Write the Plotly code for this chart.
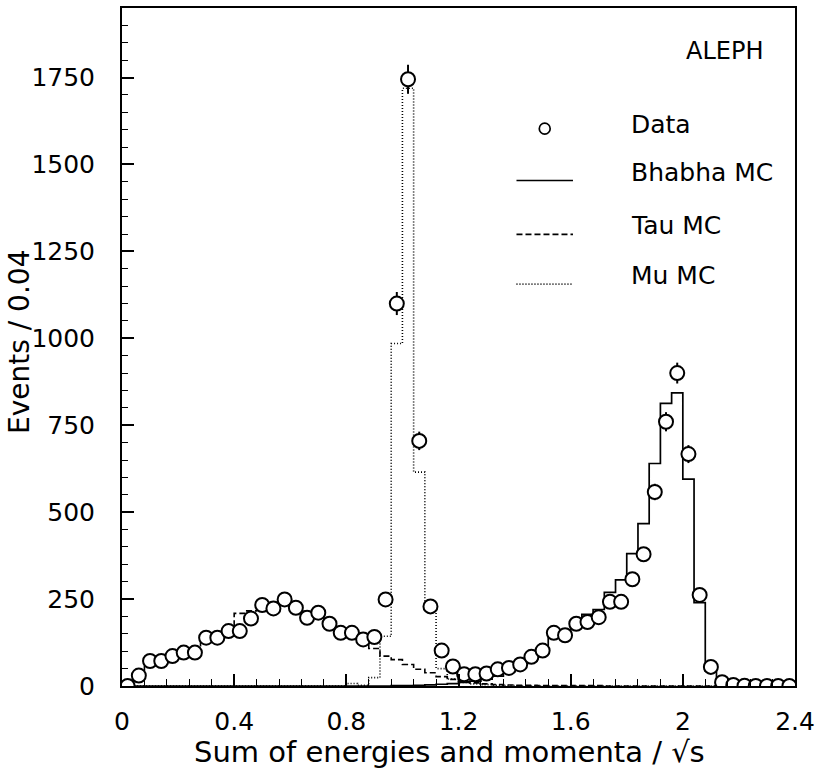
import numpy as np
import plotly.graph_objects as go

# ---------------- data (60 bins of width 0.04 from 0 to 2.4) ----------------
bin_width = 0.04
n_bins = 60

data_counts = [0, 30, 72, 72, 86, 96, 96, 139, 139, 158,
               158, 194, 233, 223, 249, 225, 196, 211, 179, 153,
               153, 134, 141, 249, 1100, 1745, 705, 229, 102, 56,
               34, 34, 36, 48, 52, 62, 84, 102, 153, 146,
               179, 184, 198, 242, 242, 307, 379, 558, 760, 900,
               667, 262, 55, 11, 3, 1, 0, 0, 0, 0]

bhabha_mc = [0, 0, 0, 0, 0, 0, 0, 0, 0, 0,
             0, 0, 0, 0, 0, 0, 0, 0, 0, 0,
             0, 0, 0, 0, 1, 1, 2, 3, 5, 7,
             10, 14, 20, 28, 40, 52, 72, 100, 163, 150,
             190, 206, 220, 269, 305, 381, 467, 640, 813, 843,
             595, 240, 43, 8, 2, 1, 0, 0, 0, 0]

tau_mc = [3, 43, 68, 72, 84, 97, 103, 130, 138, 160,
          209, 216, 228, 230, 238, 232, 215, 200, 178, 166,
          150, 140, 108, 86, 76, 62, 48, 38, 27, 19,
          13, 9, 6, 4, 3, 2, 2, 1, 1, 1,
          1, 1, 1, 0, 0, 0, 0, 0, 0, 0,
          0, 0, 0, 0, 0, 0, 0, 0, 0, 0]

mu_mc = [0, 0, 0, 0, 0, 0, 0, 0, 0, 0,
         0, 0, 0, 0, 0, 0, 0, 0, 0, 0,
         7, 2, 24, 143, 985, 1719, 615, 240, 50, 20,
         10, 6, 4, 2, 1, 0, 0, 0, 0, 0,
         0, 0, 0, 0, 0, 0, 0, 0, 0, 0,
         0, 0, 0, 0, 0, 0, 0, 0, 0, 0]

x_tick_vals = [0, 0.4, 0.8, 1.2, 1.6, 2.0, 2.4]
x_tick_text = ["0", "0.4", "0.8", "1.2", "1.6", "2", "2.4"]
y_tick_vals = [0, 250, 500, 750, 1000, 1250, 1500, 1750]
y_tick_text = ["0", "250", "500", "750", "1000", "1250", "1500", "1750"]

legend_labels = ["Data", "Bhabha MC", "Tau MC", "Mu MC"]

# ---------------- derived structure ----------------
edges = np.round(np.arange(n_bins + 1) * bin_width, 4)
centers = edges[:-1] + bin_width / 2
assert all(len(a) == n_bins for a in (data_counts, bhabha_mc, tau_mc, mu_mc))

FONT = "DejaVu Sans"
FS = 25


def step(vals):
    return list(edges), list(vals) + [vals[-1]]


fig = go.Figure()

for vals, dash, width in [(bhabha_mc, "solid", 1.7),
                          (tau_mc, "6px,3px", 1.6),
                          (mu_mc, "1px,2px", 1.6)]:
    xs, ys = step(vals)
    fig.add_trace(go.Scatter(x=xs, y=ys, mode="lines", line_shape="hv",
                             line=dict(color="black", width=width, dash=dash),
                             showlegend=False, hoverinfo="skip"))

fig.add_trace(go.Scatter(
    x=centers, y=data_counts, mode="markers",
    marker=dict(symbol="circle", size=14, color="white",
                line=dict(color="black", width=2)),
    error_y=dict(type="data", array=np.sqrt(np.array(data_counts, dtype=float)),
                 visible=True, width=0, thickness=2, color="black"),
    showlegend=False))

# ---------------- layout geometry ----------------
W, H = 821, 772
L, R, T, B = 122, 20, 6, 86
pw, ph = W - L - R, H - T - B


def px(xp):
    return (xp - L) / pw


def py(yp):
    return (H - B - yp) / ph


shapes = []
annotations = []

# manual legend
shapes.append(dict(type="circle", xref="paper", yref="paper",
                   x0=px(543), x1=px(554), y0=py(132.5), y1=py(121.5),
                   line=dict(color="black", width=1.7), fillcolor="white"))
for yp, dash in [(179, "solid"), (233, "6px,3px"), (283, "1px,2px")]:
    shapes.append(dict(type="line", xref="paper", yref="paper",
                       x0=px(520), x1=px(577), y0=py(yp), y1=py(yp),
                       line=dict(color="black", width=1.7, dash=dash)))
for label, yp in zip(legend_labels, [123, 171, 224, 274]):
    annotations.append(dict(text=label, xref="paper", yref="paper",
                            x=px(634), y=py(yp), xanchor="left", yanchor="middle",
                            showarrow=False, font=dict(family=FONT, size=FS, color="black")))

annotations.append(dict(text="ALEPH", xref="paper", yref="paper",
                        x=px(771), y=py(49), xanchor="right", yanchor="middle",
                        showarrow=False, font=dict(family=FONT, size=FS - 1, color="black")))

annotations.append(dict(text="Sum of energies and momenta / √s", xref="paper", yref="paper",
                        x=px(452), y=py(752), xanchor="center", yanchor="middle",
                        showarrow=False, font=dict(family=FONT, size=29, color="black")))
annotations.append(dict(text="Events / 0.04", xref="paper", yref="paper",
                        x=px(18), y=py(341), xanchor="center", yanchor="middle",
                        textangle=-90,
                        showarrow=False, font=dict(family=FONT, size=28, color="black")))

fig.update_layout(
    width=W, height=H,
    margin=dict(l=L, r=R, t=T, b=B, pad=0),
    paper_bgcolor="white", plot_bgcolor="white",
    showlegend=False,
    shapes=shapes, annotations=annotations,
    font=dict(family=FONT, size=FS, color="black"),
)

fig.update_xaxes(range=[0, 2.4], tickvals=x_tick_vals, ticktext=x_tick_text,
                 ticks="inside", ticklen=12, tickwidth=1.5, tickcolor="black",
                 minor=dict(dtick=0.08, tick0=0, ticks="inside", ticklen=7,
                            tickwidth=1.2, tickcolor="black"),
                 showline=True, linewidth=2, linecolor="black", mirror=True,
                 showgrid=False, zeroline=False, ticklabelstandoff=12,
                 tickfont=dict(family=FONT, size=FS, color="black"))
fig.update_yaxes(range=[0, 1950], tickvals=y_tick_vals, ticktext=y_tick_text,
                 ticks="inside", ticklen=12, tickwidth=1.5, tickcolor="black",
                 minor=dict(dtick=50, tick0=0, ticks="inside", ticklen=6,
                            tickwidth=1.2, tickcolor="black"),
                 showline=True, linewidth=2, linecolor="black", mirror=True,
                 showgrid=False, zeroline=False, ticklabelstandoff=20,
                 tickfont=dict(family=FONT, size=FS, color="black"))

fig.write_html("out.html")
